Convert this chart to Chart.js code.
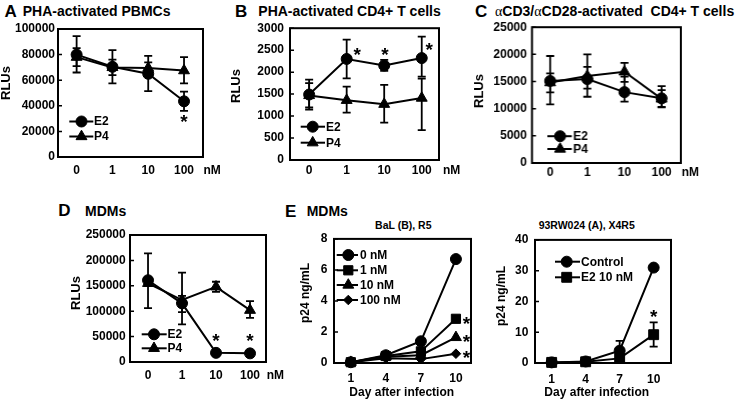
<!DOCTYPE html>
<html><head><meta charset="utf-8">
<script src="https://cdn.jsdelivr.net/npm/chart.js@4.4.1/dist/chart.umd.min.js"></script>
<style>
body{margin:0;width:741px;height:401px;overflow:hidden;background:#fff;position:relative;font-family:"Liberation Sans",Arial,sans-serif;}
.t{position:absolute;font-weight:bold;white-space:pre;line-height:1;color:#000}
.g{font-family:"Liberation Serif","DejaVu Serif",serif;font-weight:normal}
canvas{position:absolute}
</style></head><body>
<div class="t" style="left:4.5px;top:3.4px;font-size:17px">A</div>
<div class="t" style="left:22.7px;top:3.9px;font-size:14px">PHA-activated PBMCs</div>
<div class="t" style="left:235px;top:3.4px;font-size:17px">B</div>
<div class="t" style="left:258.3px;top:3.9px;font-size:14px">PHA-activated CD4+ T cells</div>
<div class="t" style="left:475px;top:3.4px;font-size:17px">C</div>
<div class="t" style="left:495px;top:3.9px;font-size:14px"><span class="g">α</span>CD3/<span class="g">α</span>CD28-activated  CD4+ T cells</div>
<div class="t" style="left:58.3px;top:202.4px;font-size:17px">D</div>
<div class="t" style="left:85px;top:203.6px;font-size:14px">MDMs</div>
<div class="t" style="left:285px;top:202.7px;font-size:17px">E</div>
<div class="t" style="left:306.7px;top:203.6px;font-size:14px">MDMs</div>
<div class="t" style="left:403.3px;top:219.9px;font-size:10.5px;transform:translateX(-50%)">BaL (B), R5</div>
<div class="t" style="left:586.7px;top:220.2px;font-size:10.5px;transform:translateX(-50%)">93RW024 (A), X4R5</div>
<script>
// ---------- data ----------
const concLabels = ['0', '1', '10', '100'];
const dayLabels = ['1', '4', '7', '10'];

// A: PHA-activated PBMCs
const pbmcE2   = [80000, 70500, 65000, 43500];
const pbmcE2Hi = [94500, 83500, 79000, 51000];
const pbmcE2Lo = [66000, 57500, 51500, 36000];
const pbmcP4   = [78000, 70000, 69500, 67500];
const pbmcP4Hi = [85000, 76000, 74000, 78000];
const pbmcP4Lo = [71000, 64000, 64000, 57500];
const pbmcStars = [[3, 31000]];

// B: PHA-activated CD4+ T cells
const cd4E2   = [1490, 2300, 2150, 2320];
const cd4E2Hi = [1830, 2740, 2280, 2810];
const cd4E2Lo = [1150, 1860, 2030, 1900];
const cd4P4   = [1470, 1360, 1270, 1410];
const cd4P4Hi = [1750, 1670, 1710, 1850];
const cd4P4Lo = [1200, 1080, 850, 680];
const cd4Stars = [[1.28, 2500], [2.02, 2500], [3.2, 2616]];

// C: aCD3/aCD28-activated CD4+ T cells
const acdE2   = [15100, 15450, 13050, 11900];
const acdE2Hi = [19700, 20000, 15900, 14150];
const acdE2Lo = [10800, 12200, 11300, 10350];
const acdP4   = [14800, 16000, 16800, 11800];
const acdP4Hi = [16500, 17700, 18450, 13400];
const acdP4Lo = [13000, 13700, 14950, 10250];

// D: MDMs
const mdmE2   = [161000, 115500, 18000, 17000];
const mdmE2Hi = [214000, 176000, 20000, 19000];
const mdmE2Lo = [106000, 74000, 16000, 15000];
const mdmP4   = [155000, 122000, 148000, 102000];
const mdmP4Hi = [160000, 130000, 158000, 120000];
const mdmP4Lo = [150000, 98000, 138000, 87000];
const mdmStars = [[2, 49800], [3, 49800]];

// E: BaL (B), R5
const bal0   = [0.05, 0.5, 1.4, 6.7];
const bal1   = [0.05, 0.45, 0.75, 2.85];
const bal10  = [0.05, 0.4, 0.5, 1.65];
const bal100 = [0.05, 0.3, 0.25, 0.6];
const balStars = [[3.3, 2.8], [3.3, 1.65], [3.3, 0.6]];

// F: 93RW024 (A), X4R5
const rwCtrl   = [0.2, 0.5, 4.0, 31];
const rwCtrlHi = [null, null, 7.2, null];
const rwCtrlLo = [null, null, 3.2, null];
const rwE2     = [0.2, 0.4, 1.5, 9.2];
const rwE2Hi   = [null, null, null, 13.2];
const rwE2Lo   = [null, null, null, 5.3];
const rwStars = [[3, 16.4]];

// ---------- panels ----------
const FONT = '"Liberation Sans", Arial, sans-serif';
Chart.defaults.font.family = FONT;
Chart.defaults.color = '#000';

const panels = [
  { box:{l:58,t:29,r:203,b:157}, xMin:-0.52, xMax:3.53, yMax:100000, yStep:20000, cats:concLabels,
    yPad:3, xPad:6.5, yTitle:{text:'RLUs', x:10, y:83, size:13},
    series:[{label:'E2', data:pbmcE2, hi:pbmcE2Hi, lo:pbmcE2Lo, style:'circle', r:5.5},
            {label:'P4', data:pbmcP4, hi:pbmcP4Hi, lo:pbmcP4Lo, style:'triangle', r:6.3}],
    legend:{x0:69.3, x1:93.3, mx:81.5, tx:94, rows:[121.5,136.5]},
    stars:pbmcStars, unit:{text:'nM', x:203.5, y:170.7} },
  { box:{l:290,t:27,r:439,b:160}, xMin:-0.51, xMax:3.46, yMax:3000, yStep:500, cats:concLabels,
    yPad:6, xPad:3.8, yTitle:{text:'RLUs', x:240, y:86, size:13},
    series:[{label:'E2', data:cd4E2, hi:cd4E2Hi, lo:cd4E2Lo, style:'circle', r:5.5},
            {label:'P4', data:cd4P4, hi:cd4P4Hi, lo:cd4P4Lo, style:'triangle', r:6.3}],
    legend:{x0:300.7, x1:325, mx:312.7, tx:326, rows:[126.7,142.7]},
    stars:cd4Stars, unit:{text:'nM', x:443, y:171} },
  { box:{l:532,t:27,r:681,b:163}, xMin:-0.49, xMax:3.52, yMax:25000, yStep:5000, cats:concLabels,
    yPad:5, xPad:2.5, yTitle:{text:'RLUs', x:483.3, y:91, size:13},
    series:[{label:'E2', data:acdE2, hi:acdE2Hi, lo:acdE2Lo, style:'circle', r:5.5},
            {label:'P4', data:acdP4, hi:acdP4Hi, lo:acdP4Lo, style:'triangle', r:6.3}],
    legend:{x0:547.3, x1:571.7, mx:560, tx:573, rows:[136.2,149]},
    stars:[], unit:{text:'nM', x:681, y:172.7} },
  { box:{l:130,t:235,r:266,b:362}, xMin:-0.53, xMax:3.47, yMax:250000, yStep:50000, cats:concLabels,
    yPad:4.3, xPad:6.8, yTitle:{text:'RLUs', x:80, y:293, size:13},
    series:[{label:'E2', data:mdmE2, hi:mdmE2Hi, lo:mdmE2Lo, style:'circle', r:5.5},
            {label:'P4', data:mdmP4, hi:mdmP4Hi, lo:mdmP4Lo, style:'triangle', r:6.3}],
    legend:{x0:141.7, x1:166.7, mx:154, tx:167.5, rows:[334.3,348.3]},
    stars:mdmStars, unit:{text:'nM', x:266.7, y:376} },
  { box:{l:334,t:237,r:471,b:363}, xMin:-0.48, xMax:3.43, yMax:8, yStep:2, cats:dayLabels,
    yPad:6.7, xPad:8, yTitle:{text:'p24 ng/mL', x:308.6, y:293, size:12},
    xTitle:{text:'Day after infection', x:401.7, y:392.7},
    series:[{label:'0 nM', data:bal0, style:'circle', r:5.5},
            {label:'1 nM', data:bal1, style:'rect', r:6.5},
            {label:'10 nM', data:bal10, style:'triangle', r:6.3},
            {label:'100 nM', data:bal100, style:'rectRot', r:4.8}],
    legend:{x0:336.7, x1:358, mx:348.3, tx:360, rows:[255,270.3,285,300]},
    stars:balStars },
  { box:{l:535,t:238,r:671,b:363}, xMin:-0.49, xMax:3.51, yMax:40, yStep:10, cats:dayLabels,
    yPad:6.7, xPad:9.8, yTitle:{text:'p24 ng/mL', x:505.3, y:296, size:12},
    xTitle:{text:'Day after infection', x:596.7, y:393},
    series:[{label:'Control', data:rwCtrl, hi:rwCtrlHi, lo:rwCtrlLo, style:'circle', r:5.5},
            {label:'E2 10 nM', data:rwE2, hi:rwE2Hi, lo:rwE2Lo, style:'rect', r:7}],
    legend:{x0:555, x1:580, mx:566.7, tx:581, rows:[261.7,277.3]},
    stars:rwStars },
];

function makePanel(p, idx) {
  const B = p.box;
  const cl = Math.min(p.yTitle.x - 16, B.l - 62);
  const ct = B.t - 12;
  const W = B.r + 32 - cl;
  const H = B.b + 45 - ct;
  const cv = document.createElement('canvas');
  cv.width = W; cv.height = H;
  cv.style.left = cl + 'px'; cv.style.top = ct + 'px';
  cv.style.width = W + 'px'; cv.style.height = H + 'px';
  document.body.appendChild(cv);

  const decor = {
    id: 'decor' + idx,
    beforeDatasetsDraw(chart) {
      const ctx = chart.ctx, xs = chart.scales.x, ys = chart.scales.y;
      ctx.save();
      ctx.strokeStyle = '#000'; ctx.lineWidth = 1.8;
      chart.data.datasets.forEach(ds => {
        if (!ds.errHi) return;
        ds.data.forEach((pt, i) => {
          const hi = ds.errHi[i], lo = ds.errLo[i];
          if (hi == null || lo == null) return;
          const px = xs.getPixelForValue(pt.x);
          const y1 = ys.getPixelForValue(hi), y2 = ys.getPixelForValue(lo);
          ctx.beginPath();
          ctx.moveTo(px, y1); ctx.lineTo(px, y2);
          ctx.moveTo(px - 4, y1); ctx.lineTo(px + 4, y1);
          ctx.moveTo(px - 4, y2); ctx.lineTo(px + 4, y2);
          ctx.stroke();
        });
      });
      ctx.restore();
    },
    afterDatasetsDraw(chart) {
      const ctx = chart.ctx, ca = chart.chartArea, xs = chart.scales.x, ys = chart.scales.y;
      ctx.save();
      // frame
      ctx.strokeStyle = '#000'; ctx.lineWidth = 2;
      ctx.strokeRect(ca.left, ca.top, ca.right - ca.left, ca.bottom - ca.top);
      // inward y ticks
      ctx.lineWidth = 1.5;
      ctx.beginPath();
      ys.ticks.forEach(t => {
        const py = ys.getPixelForValue(t.value);
        ctx.moveTo(ca.left, py); ctx.lineTo(ca.left + 4, py);
      });
      ctx.stroke();
      // legend
      const L = p.legend;
      chart.data.datasets.forEach((ds, i) => {
        const yy = L.rows[i] - ct;
        ctx.strokeStyle = '#000'; ctx.fillStyle = '#000'; ctx.lineWidth = 2;
        ctx.beginPath(); ctx.moveTo(L.x0 - cl, yy); ctx.lineTo(L.x1 - cl, yy); ctx.stroke();
        ctx.lineWidth = 1;
        Chart.helpers.drawPoint(ctx, {pointStyle: ds.pointStyle, radius: ds.pointRadius, rotation: 0, borderWidth: 1}, L.mx - cl, yy);
        ctx.font = 'bold 12px ' + FONT;
        ctx.textAlign = 'left'; ctx.textBaseline = 'middle';
        ctx.fillText(ds.label, L.tx - cl, yy + 0.5);
      });
      // significance stars
      ctx.fillStyle = '#000';
      ctx.font = 'bold 19px ' + FONT;
      ctx.textAlign = 'center'; ctx.textBaseline = 'alphabetic';
      p.stars.forEach(s => {
        ctx.fillText('*', xs.getPixelForValue(s[0]), ys.getPixelForValue(s[1]) + 10.5);
      });
      // unit label
      if (p.unit) {
        ctx.font = 'bold 12px ' + FONT;
        ctx.textAlign = 'left'; ctx.textBaseline = 'middle';
        ctx.fillText(p.unit.text, p.unit.x - cl, p.unit.y - ct);
      }
      // y title
      ctx.save();
      ctx.font = 'bold ' + p.yTitle.size + 'px ' + FONT;
      ctx.translate(p.yTitle.x - cl, p.yTitle.y - ct);
      ctx.rotate(-Math.PI / 2);
      ctx.textAlign = 'center'; ctx.textBaseline = 'alphabetic';
      ctx.fillText(p.yTitle.text, 0, 0);
      ctx.restore();
      // x title
      if (p.xTitle) {
        ctx.font = 'bold 12px ' + FONT;
        ctx.textAlign = 'center'; ctx.textBaseline = 'middle';
        ctx.fillText(p.xTitle.text, p.xTitle.x - cl, p.xTitle.y - ct);
      }
      ctx.restore();
    }
  };

  new Chart(cv, {
    type: 'line',
    data: {
      datasets: p.series.map(s => ({
        label: s.label,
        data: s.data.map((v, i) => ({x: i, y: v})),
        errHi: s.hi, errLo: s.lo,
        borderColor: '#000', backgroundColor: '#000',
        pointBackgroundColor: '#000', pointBorderColor: '#000',
        borderWidth: 2, pointBorderWidth: 1,
        pointStyle: s.style, pointRadius: s.r, pointHoverRadius: s.r,
        tension: 0, fill: false, clip: false
      }))
    },
    options: {
      responsive: false, animation: false, devicePixelRatio: 1, events: [],
      layout: { padding: { left: 0, top: B.t - ct, right: cl + W - B.r, bottom: 0 } },
      plugins: { legend: { display: false }, tooltip: { enabled: false } },
      scales: {
        x: {
          type: 'linear', min: p.xMin, max: p.xMax,
          grid: { display: false, drawTicks: false }, border: { display: false },
          afterBuildTicks: s => { s.ticks = p.cats.map((c, i) => ({ value: i })); },
          afterFit: s => { s.height = 45; },
          ticks: { autoSkip: false, maxRotation: 0, padding: p.xPad,
                   font: { size: 12, weight: 'bold' },
                   callback: v => (p.cats[v] !== undefined ? p.cats[v] : '') }
        },
        y: {
          type: 'linear', min: 0, max: p.yMax,
          grid: { display: false, drawTicks: false }, border: { display: false },
          afterFit: s => { s.width = B.l - cl; },
          ticks: { stepSize: p.yStep, padding: p.yPad, font: { size: 12, weight: 'bold' },
                   callback: v => String(v) }
        }
      }
    },
    plugins: [decor]
  });
}

panels.forEach(makePanel);
</script>
</body></html>
